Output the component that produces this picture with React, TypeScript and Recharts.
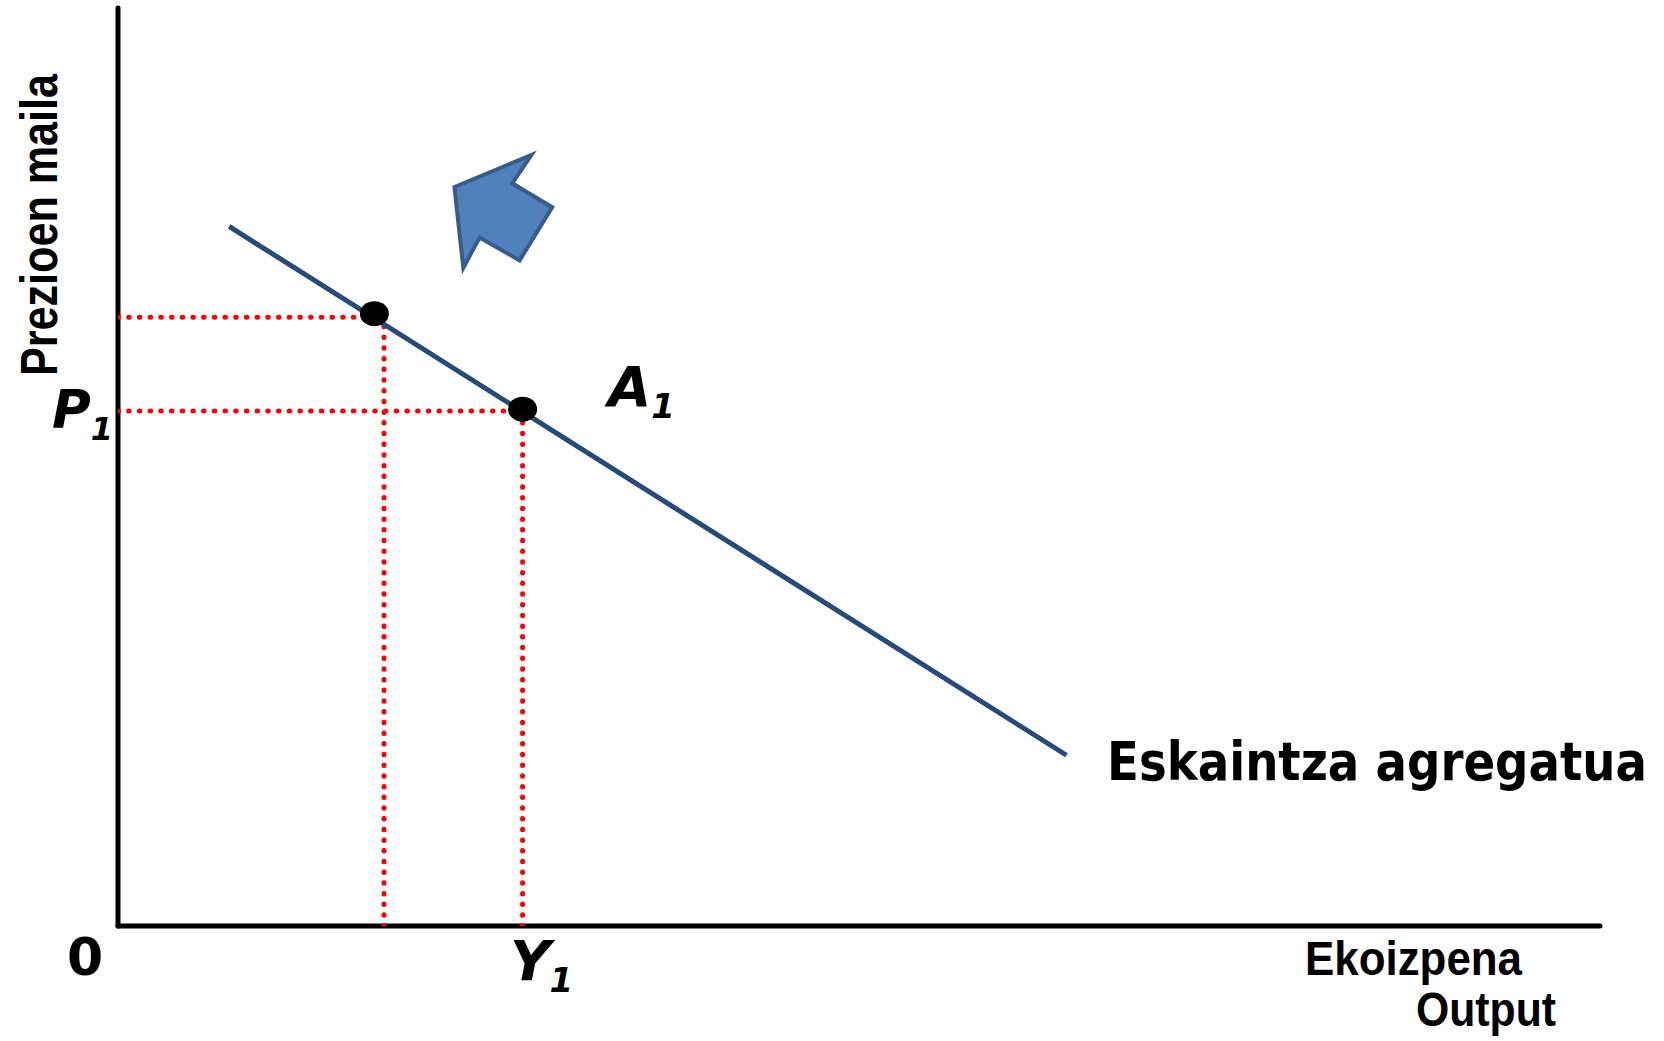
import React from "react";
import { ComposedChart, Line, Scatter, XAxis, YAxis, ReferenceLine } from "recharts";

const WIDTH = 1664;
const HEIGHT = 1041;

// aggregate supply curve (x = output, y = price level), arbitrary 0-100 units
const supplyCurve = [
  { x: 7.5, y: 76.2 },
  { x: 64.0, y: 18.6 },
];

// the two points marked on the curve
const curvePoints = [
  { x: 17.3, y: 66.7 },
  { x: 27.3, y: 56.3 },
];

// dotted guide levels: [upper point, A1]
const priceLevels = [66.3, 56.1];
const outputLevels = [17.95, 27.3];

// outline of the shift arrow (up and to the left)
const shiftArrow = [
  { x: 22.7, y: 80.5 },
  { x: 27.9, y: 84.0 },
  { x: 26.6, y: 80.9 },
  { x: 29.3, y: 78.3 },
  { x: 27.1, y: 72.5 },
  { x: 24.4, y: 75.0 },
  { x: 23.3, y: 71.7 },
];

const upperH = [{ x: 0, y: priceLevels[0] }, { x: outputLevels[0], y: priceLevels[0] }];
const lowerH = [{ x: 0, y: priceLevels[1] }, { x: outputLevels[1], y: priceLevels[1] }];
const leftV = [{ x: outputLevels[0], y: 0 }, { x: outputLevels[0], y: priceLevels[0] }];
const rightV = [{ x: outputLevels[1], y: 0 }, { x: outputLevels[1], y: priceLevels[1] }];

const RED = "#FF0000";
const CURVE = "#254A7C";
const NARROW = "'Liberation Sans Narrow', 'Arial Narrow', 'Liberation Sans', Arial, sans-serif";
const VERDANA = "'DejaVu Sans', Verdana, sans-serif";
const TAHOMA = "'DejaVu Sans Condensed', 'DejaVu Sans', Tahoma, sans-serif";

const dotted = {
  stroke: RED,
  strokeWidth: 5,
  strokeDasharray: "0.5 10.2",
  strokeLinecap: "round" as const,
  dot: false,
  activeDot: false,
  isAnimationActive: false,
  type: "linear" as const,
  dataKey: "y",
};

const ArrowShape = (p: any) => (
  <polygon
    points={p.points.map((pt: any) => `${pt.x},${pt.y}`).join(" ")}
    fill="#4F81BD"
    stroke="#385D8A"
    strokeWidth={4}
    strokeLinejoin="miter"
  />
);

export default function App() {
  return (
    <div style={{ position: "relative", width: WIDTH, height: HEIGHT, background: "#fff" }}>
      <style>{`body{margin:0}`}</style>
      <ComposedChart
        width={WIDTH}
        height={HEIGHT}
        margin={{ top: 8, right: 64, bottom: 115, left: 118 }}
      >
        <XAxis type="number" dataKey="x" domain={[0, 100]} allowDataOverflow hide />
        <YAxis type="number" dataKey="y" domain={[0, 100]} allowDataOverflow hide />
        {/* axes */}
        <ReferenceLine x={0} stroke="#000" strokeWidth={5} strokeLinecap="round" />
        <ReferenceLine y={0} stroke="#000" strokeWidth={5} strokeLinecap="round" />
        <Line data={lowerH} {...dotted} />
        <Line data={leftV} {...dotted} />
        <Line data={rightV} {...dotted} />
        <Line
          data={supplyCurve}
          dataKey="y"
          type="linear"
          stroke={CURVE}
          strokeWidth={5}
          dot={false}
          activeDot={false}
          isAnimationActive={false}
        />
        <Scatter
          data={curvePoints}
          dataKey="y"
          isAnimationActive={false}
          shape={(p: any) => <ellipse cx={p.cx} cy={p.cy} rx={14.5} ry={12.5} fill="#000" />}
        />
        <Line data={upperH} {...dotted} />
        <Scatter
          data={shiftArrow}
          dataKey="y"
          isAnimationActive={false}
          shape={() => <g />}
          line={ArrowShape}
          lineType="joint"
        />
      </ComposedChart>

      {/* labels */}
      <svg
        width={WIDTH}
        height={HEIGHT}
        style={{ position: "absolute", left: 0, top: 0, pointerEvents: "none" }}
      >
        <text
          transform="translate(57,225) rotate(-90)"
          textAnchor="middle"
          fontFamily={NARROW}
          fontWeight="bold"
          fontSize={52}
          textLength={302}
          lengthAdjust="spacingAndGlyphs"
        >
          Prezioen maila
        </text>
        <text
          x={1107}
          y={780}
          fontFamily={TAHOMA}
          fontStretch="condensed"
          fontWeight="bold"
          fontSize={53}
          textLength={540}
          lengthAdjust="spacingAndGlyphs"
        >
          Eskaintza agregatua
        </text>
        <text
          x={1305}
          y={975}
          fontFamily={NARROW}
          fontWeight="bold"
          fontSize={49}
          textLength={217}
          lengthAdjust="spacingAndGlyphs"
        >
          Ekoizpena
        </text>
        <text
          x={1416}
          y={1026}
          fontFamily={NARROW}
          fontWeight="bold"
          fontSize={49}
          textLength={140}
          lengthAdjust="spacingAndGlyphs"
        >
          Output
        </text>
        <text x={67} y={975} fontFamily={VERDANA} fontWeight="bold" fontSize={52}>
          0
        </text>
        <text x={52} y={428} fontFamily={VERDANA} fontWeight="bold" fontStyle="italic" fontSize={53}>
          P
          <tspan dy={12} fontSize={32}>1</tspan>
        </text>
        <text x={608} y={406} fontFamily={VERDANA} fontWeight="bold" fontStyle="italic" fontSize={56}>
          A
          <tspan dy={12} fontSize={34}>1</tspan>
        </text>
        <text x={510} y={980} fontFamily={VERDANA} fontWeight="bold" fontStyle="italic" fontSize={56}>
          Y
          <tspan dx={-1} dy={12} fontSize={34}>1</tspan>
        </text>
      </svg>
    </div>
  );
}
